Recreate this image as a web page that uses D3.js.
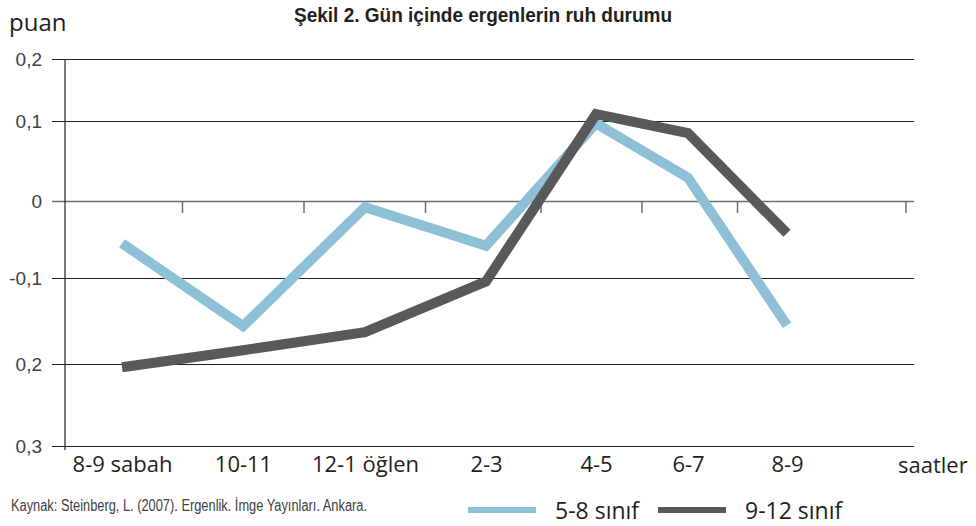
<!DOCTYPE html>
<html>
<head>
<meta charset="utf-8">
<script src="https://cdn.jsdelivr.net/npm/d3@7"></script>
<style>
  html, body { margin: 0; padding: 0; background: #fff; }
  svg { display: block; }
</style>
</head>
<body>
<svg id="chart" width="976" height="526"></svg>
<script>
// ---- data ----
const categories = ["8-9 sabah", "10-11", "12-1 öğlen", "2-3", "4-5", "6-7", "8-9"];
const grade58 = [-0.055, -0.156, -0.008, -0.058, 0.097, 0.029, -0.155];
const grade912 = [-0.204, -0.184, -0.163, -0.104, 0.111, 0.085, -0.042];
const seriesNames = ["5-8 sınıf", "9-12 sınıf"];
const yTicks = [0.2, 0.1, 0, -0.1, -0.2, -0.3];
const yTickLabels = ["0,2", "0,1", "0", "-0,1", "0,2", "0,3"];
const title = "Şekil 2. Gün içinde ergenlerin ruh durumu";
const yTitle = "puan";
const xTitle = "saatler";
const source = "Kaynak: Steinberg, L. (2007). Ergenlik. İmge Yayınları. Ankara.";

// ---- layout ----
const svg = d3.select("#chart");
const colors = ["#8fc1d6", "#58595b"];
const narrow = "'Liberation Sans Narrow', 'Arial Narrow', sans-serif";
const sans = "'Open Sans', 'Noto Sans', sans-serif";

// piecewise scales follow the (uneven) spacing of the printed chart
const y = d3.scaleLinear().domain(yTicks).range([59, 121, 201, 278, 364, 446]);
const idx = d3.range(categories.length);
const x = d3.scaleLinear().domain(idx).range([122, 243, 365, 486, 596, 688, 787]);
const gridLeft = 52, axisX = 65, gridRight = 914;

// title
svg.append("text").attr("x", 483).attr("y", 22).attr("text-anchor", "middle")
  .attr("font-family", narrow).attr("font-weight", "bold").attr("font-size", 20)
  .attr("fill", "#231f20").attr("textLength", 378).attr("lengthAdjust", "spacingAndGlyphs")
  .text(title);

svg.append("text").attr("x", 9).attr("y", 31).attr("font-family", sans)
  .attr("font-size", 24).attr("fill", "#231f20").text(yTitle);

// y axis with gridlines
const yAxis = d3.axisLeft(y).tickValues(yTicks)
  .tickFormat((d, i) => yTickLabels[i])
  .tickSizeInner(-(gridRight - gridLeft)).tickSizeOuter(0).tickPadding(10);
const gy = svg.append("g").attr("transform", `translate(${gridLeft},0)`).call(yAxis);
gy.select(".domain").remove();
gy.selectAll(".tick line").attr("stroke", d => d === 0 ? "#6d6e70" : "#231f20").attr("stroke-width", d => d === 0 ? 1.6 : 1.2);
gy.selectAll(".tick text").attr("font-family", narrow).attr("font-size", 19)
  .attr("fill", "#414042");

// vertical axis line
svg.append("line").attr("x1", axisX).attr("x2", axisX)
  .attr("y1", y(0.2)).attr("y2", y(-0.3) + 4)
  .attr("stroke", "#231f20").attr("stroke-width", 1.2);

// small ticks on the zero line between categories
const boundaries = idx.slice(0, -1).map(i => x(i + 0.5)).concat([gridRight - 8]);
svg.append("g").selectAll("line").data(boundaries).join("line")
  .attr("x1", d => d).attr("x2", d => d)
  .attr("y1", y(0)).attr("y2", y(0) + 12)
  .attr("stroke", "#6d6e70").attr("stroke-width", 1.5);

// x axis labels
const xAxis = d3.axisBottom(x).tickValues(idx).tickFormat(i => categories[i])
  .tickSize(0).tickPadding(10);
const gx = svg.append("g").attr("transform", `translate(0,${y(-0.3)})`).call(xAxis);
gx.select(".domain").remove();
gx.selectAll(".tick text").attr("font-family", sans).attr("font-size", 22).attr("fill", "#231f20");

svg.append("text").attr("x", 898).attr("y", 473).attr("font-family", sans)
  .attr("font-size", 22).attr("fill", "#231f20").text(xTitle);

// lines
const line = d3.line().x((d, i) => x(i)).y(d => y(d));
[grade58, grade912].forEach((s, k) => {
  svg.append("path").datum(s).attr("d", line)
    .attr("fill", "none").attr("stroke", colors[k]).attr("stroke-width", 10)
    .attr("stroke-linejoin", "miter").attr("stroke-linecap", "butt");
});

// source
svg.append("text").attr("x", 11).attr("y", 511).attr("font-family", narrow)
  .attr("font-size", 16).attr("fill", "#414042").attr("textLength", 356)
  .attr("lengthAdjust", "spacingAndGlyphs").text(source);

// legend
const legendX = [468, 658];
seriesNames.forEach((name, k) => {
  svg.append("line").attr("x1", legendX[k]).attr("x2", legendX[k] + 68)
    .attr("y1", 510).attr("y2", 510).attr("stroke", colors[k]).attr("stroke-width", 6);
  svg.append("text").attr("x", legendX[k] + 87).attr("y", 519)
    .attr("font-family", sans).attr("font-size", 23).attr("fill", "#231f20").text(name);
});
</script>
</body>
</html>
